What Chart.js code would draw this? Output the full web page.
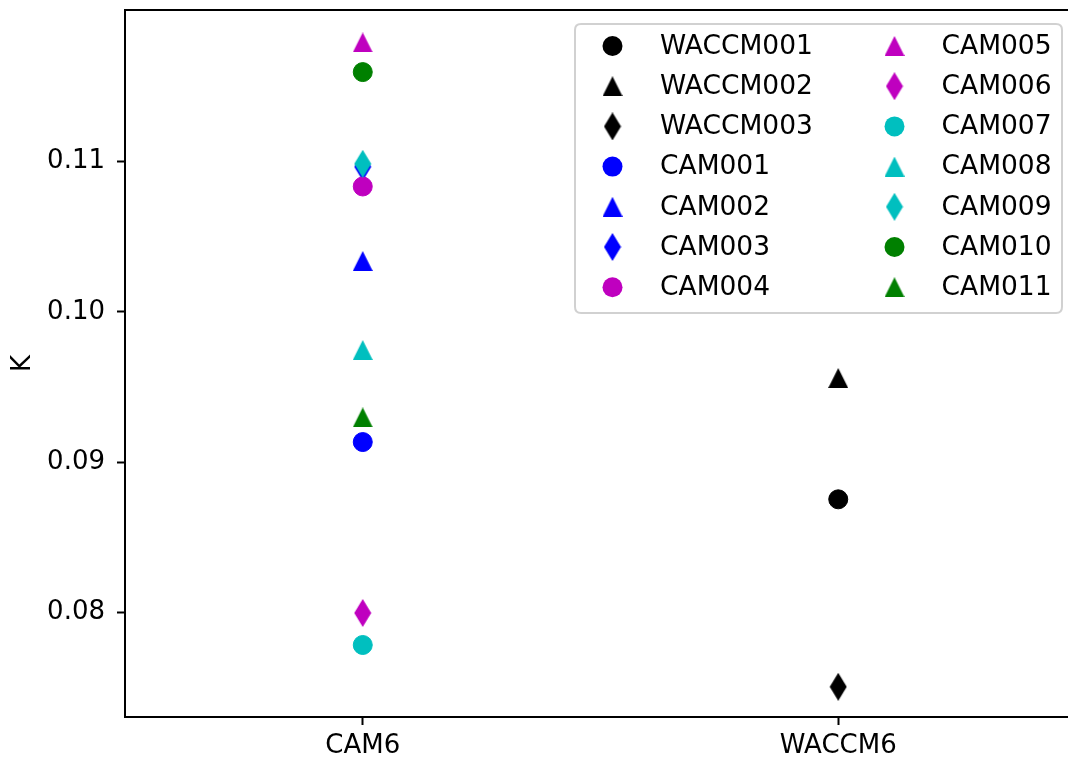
<!DOCTYPE html>
<html>
<head>
<meta charset="utf-8">
<script src="https://cdn.jsdelivr.net/npm/chart.js@4.4.1/dist/chart.umd.min.js"></script>
<style>
  html, body { margin: 0; padding: 0; background: #fff; overflow: hidden; }
  #wrap { position: absolute; left: 0; top: 0; width: 1080px; height: 764px; }
  #c { display: block; width: 1080px; height: 764px; }
</style>
</head>
<body>
<div id="wrap"><canvas id="c" width="1080" height="764"></canvas></div>
<script>
// ---- data ----
const categories = ['CAM6', 'WACCM6'];
const seriesNames = ['WACCM001', 'WACCM002', 'WACCM003', 'CAM001', 'CAM002', 'CAM003', 'CAM004',
                     'CAM005', 'CAM006', 'CAM007', 'CAM008', 'CAM009', 'CAM010', 'CAM011'];
const seriesCategory = ['WACCM6', 'WACCM6', 'WACCM6', 'CAM6', 'CAM6', 'CAM6', 'CAM6',
                        'CAM6', 'CAM6', 'CAM6', 'CAM6', 'CAM6', 'CAM6', 'CAM6'];
const seriesValues = [0.08753, 0.09560, 0.07506, 0.09134, 0.10338, 0.10965, 0.10834,
                      0.11792, 0.07997, 0.07784, 0.09746, 0.10985, 0.11595, 0.09298];
const yTickValues = [0.08, 0.09, 0.10, 0.11];
const yRange = [0.07305, 0.12008];

// ---- styles ----
const seriesColors = ['#000000', '#000000', '#000000', '#0000ff', '#0000ff', '#0000ff', '#bf00bf',
                      '#bf00bf', '#bf00bf', '#00bfbf', '#00bfbf', '#00bfbf', '#008000', '#008000'];
const seriesMarkers = ['o', '^', 'd', 'o', '^', 'd', 'o', '^', 'd', 'o', '^', 'd', 'o', '^'];

const FONT = "'DejaVu Sans', sans-serif";

function makeTriangle(color) {
  const c = document.createElement('canvas');
  c.width = 20; c.height = 20;
  const g = c.getContext('2d');
  g.fillStyle = color;
  g.beginPath();
  g.moveTo(10, 0); g.lineTo(20, 20); g.lineTo(0, 20); g.closePath();
  g.fill();
  return c;
}
function makeDiamond(color) {
  const c = document.createElement('canvas');
  c.width = 18; c.height = 28;
  const g = c.getContext('2d');
  g.fillStyle = color;
  g.beginPath();
  g.moveTo(9, 0); g.lineTo(17.5, 14); g.lineTo(9, 28); g.lineTo(0.5, 14); g.closePath();
  g.fill();
  return c;
}
function markerStyle(m, color) {
  if (m === '^') return makeTriangle(color);
  if (m === 'd') return makeDiamond(color);
  return 'circle';
}

const pointStyles = seriesMarkers.map((m, i) => markerStyle(m, seriesColors[i]));

// later series are drawn on top (as in the original plot)
const datasets = seriesNames.map((name, i) => ({
  label: name,
  data: [{ x: seriesCategory[i], y: seriesValues[i] }],
  order: seriesNames.length - i,
  showLine: false,
  pointStyle: pointStyles[i],
  pointRadius: 9.5,
  pointBorderWidth: 1,
  backgroundColor: seriesColors[i],
  borderColor: seriesColors[i],
}));

const frame = {
  id: 'frame',
  afterDraw(chart) {
    const { ctx, chartArea: a } = chart;
    ctx.save();
    ctx.strokeStyle = '#000';
    ctx.lineWidth = 2;
    ctx.strokeRect(a.left, a.top, a.right - a.left, a.bottom - a.top);
    ctx.restore();
  }
};

function roundRect(ctx, x, y, w, h, r) {
  ctx.beginPath();
  ctx.moveTo(x + r, y);
  ctx.lineTo(x + w - r, y); ctx.quadraticCurveTo(x + w, y, x + w, y + r);
  ctx.lineTo(x + w, y + h - r); ctx.quadraticCurveTo(x + w, y + h, x + w - r, y + h);
  ctx.lineTo(x + r, y + h); ctx.quadraticCurveTo(x, y + h, x, y + h - r);
  ctx.lineTo(x, y + r); ctx.quadraticCurveTo(x, y, x + r, y);
  ctx.closePath();
}

const legendPlugin = {
  id: 'mplLegend',
  afterDraw(chart) {
    const ctx = chart.ctx;
    const box = { x: 575, y: 24, w: 487, h: 289 };
    ctx.save();
    roundRect(ctx, box.x, box.y, box.w, box.h, 6);
    ctx.fillStyle = 'rgba(255,255,255,0.8)';
    ctx.fill();
    ctx.strokeStyle = 'rgba(204,204,204,0.9)';
    ctx.lineWidth = 2;
    ctx.stroke();
    const rows = 7;
    const cols = [{ mx: 612.5, tx: 660 }, { mx: 894.5, tx: 941.5 }];
    const y0 = 46, dy = 40.2;
    ctx.font = '26.5px ' + FONT;
    ctx.textBaseline = 'middle';
    ctx.textAlign = 'left';
    chart.data.datasets.forEach((ds, i) => {
      const col = cols[Math.floor(i / rows)];
      const y = y0 + (i % rows) * dy;
      const st = ds.pointStyle;
      if (st === 'circle') {
        ctx.beginPath();
        ctx.arc(col.mx, y, 10, 0, Math.PI * 2);
        ctx.fillStyle = ds.backgroundColor;
        ctx.fill();
      } else {
        ctx.drawImage(st, col.mx - st.width / 2, y - st.height / 2);
      }
      ctx.fillStyle = '#000';
      ctx.fillText(ds.label, col.tx, y + 1);
    });
    ctx.restore();
  }
};

function zeroPad(s) { s.paddingLeft = 0; s.paddingRight = 0; s.paddingTop = 0; s.paddingBottom = 0; }

new Chart(document.getElementById('c'), {
  type: 'line',
  data: { labels: categories, datasets },
  options: {
    responsive: false,
    animation: false,
    devicePixelRatio: 1,
    events: [],
    layout: { autoPadding: false, padding: { top: 10, right: 4, left: 0, bottom: 0 } },
    plugins: { legend: { display: false }, tooltip: { enabled: false } },
    scales: {
      x: {
        type: 'category',
        labels: categories,
        offset: true,
        afterFit(s) { s.height = 47; zeroPad(s); },
        grid: { display: true, drawOnChartArea: false, drawTicks: true, tickLength: 8, tickWidth: 2, tickColor: '#000', offset: false },
        border: { display: true, color: '#000', width: 2 },
        ticks: { color: '#000', font: { family: FONT, size: 26 }, padding: 6, maxRotation: 0 }
      },
      y: {
        type: 'linear',
        min: yRange[0],
        max: yRange[1],
        afterFit(s) { s.width = 125; zeroPad(s); },
        afterBuildTicks(s) { s.ticks = yTickValues.map(v => ({ value: v })); },
        grid: { display: true, drawOnChartArea: false, drawTicks: true, tickLength: 8, tickWidth: 2, tickColor: '#000' },
        border: { display: true, color: '#000', width: 2 },
        ticks: { color: '#000', font: { family: FONT, size: 26 }, padding: 12, callback: v => Number(v).toFixed(2) },
        title: { display: true, text: 'K', color: '#000', font: { family: FONT, size: 26 }, padding: { top: 8, bottom: 0 } }
      }
    }
  },
  plugins: [frame, legendPlugin]
});
</script>
</body>
</html>
